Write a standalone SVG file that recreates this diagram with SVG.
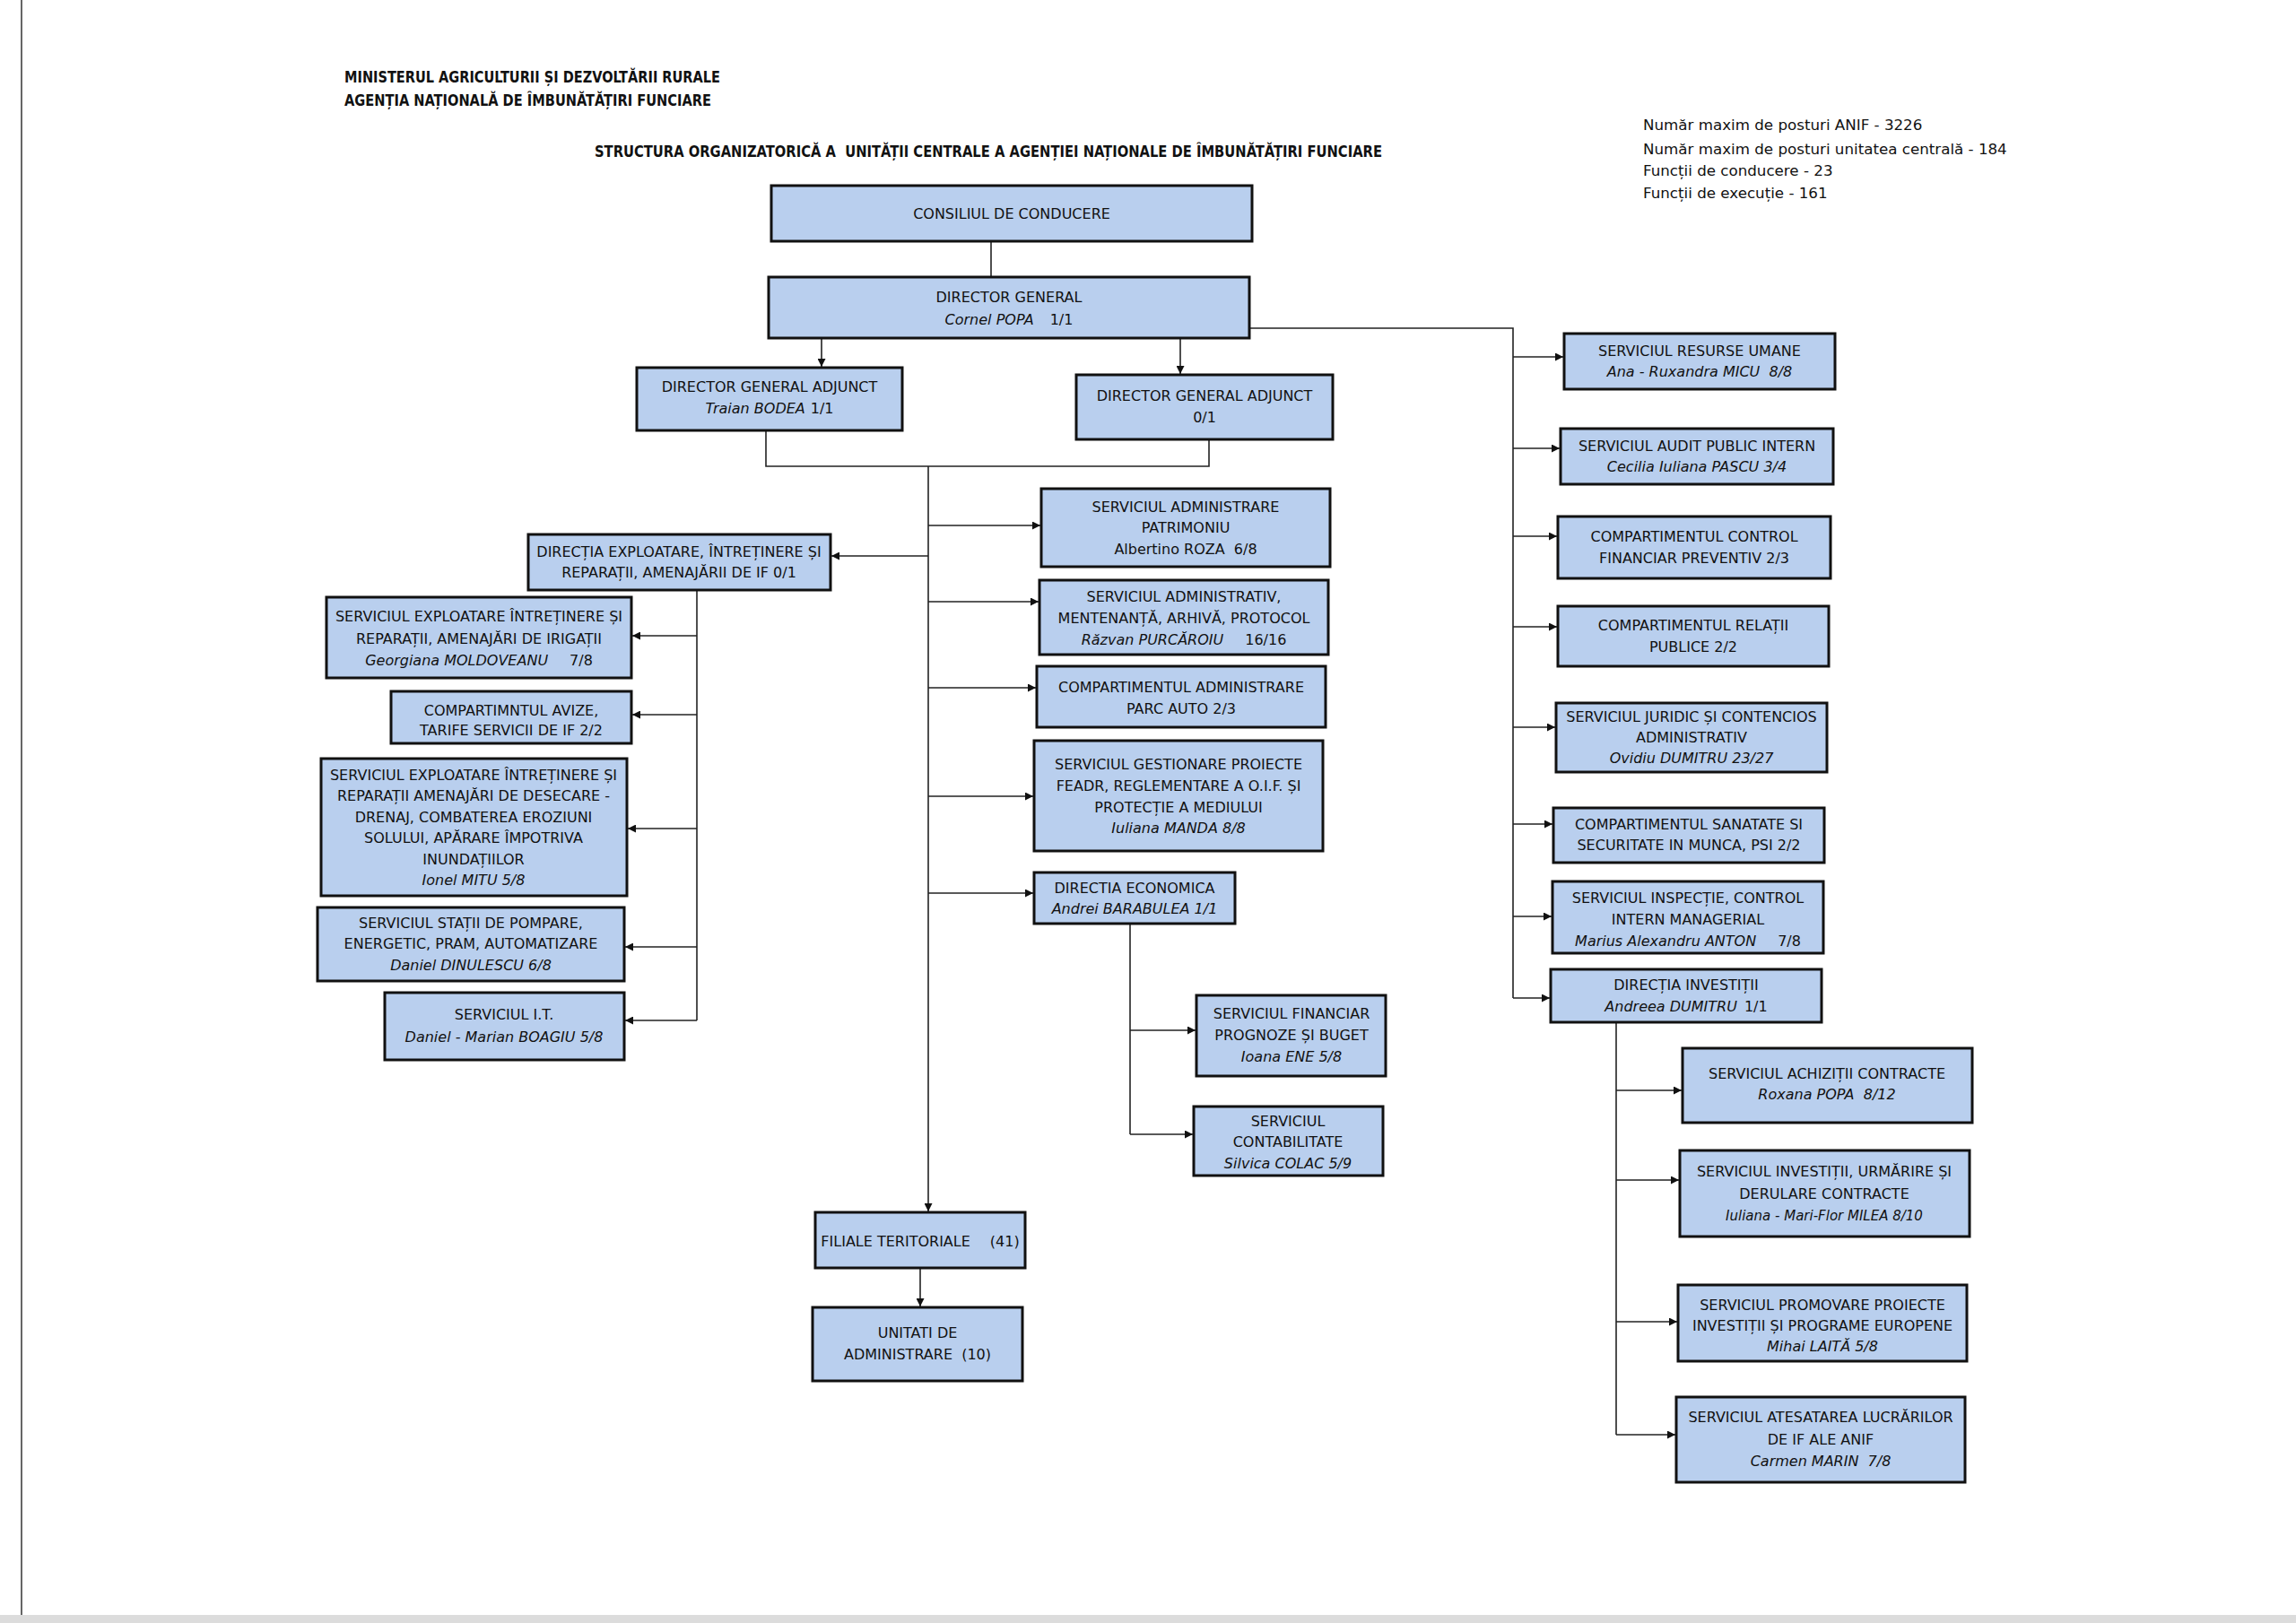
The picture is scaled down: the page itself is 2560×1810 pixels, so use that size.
<svg xmlns="http://www.w3.org/2000/svg" width="2560" height="1810" viewBox="0 0 2560 1810">
<defs>
<style>
.box{fill:#b9cfee;stroke:#111;stroke-width:3}
.t{font-family:"DejaVu Sans",Verdana,sans-serif;font-size:16px;fill:#111;text-anchor:middle}
.i{font-style:italic}
.hd{font-family:"DejaVu Sans Condensed","DejaVu Sans",sans-serif;font-size:17px;font-weight:bold;fill:#111}
.st{font-family:"DejaVu Sans",Verdana,sans-serif;font-size:16.7px;fill:#111}
.c{fill:none;stroke:#222;stroke-width:1.6}
</style>
<marker id="ah" viewBox="0 0 10 10" refX="10" refY="5" markerWidth="9" markerHeight="9" markerUnits="userSpaceOnUse" orient="auto">
<path d="M0,0 L10,5 L0,10 z" fill="#111"/>
</marker>
</defs>
<rect x="0" y="0" width="2560" height="1810" fill="#fff"/>
<line x1="24" y1="0" x2="24" y2="1810" stroke="#666" stroke-width="2"/>
<rect x="0" y="1801" width="2560" height="9" fill="#dcdcdc"/>

<g id="header">
<text class="hd" x="384" y="92" textLength="419" lengthAdjust="spacingAndGlyphs">MINISTERUL AGRICULTURII ȘI DEZVOLTĂRII RURALE</text>
<text class="hd" x="384" y="118" textLength="409" lengthAdjust="spacingAndGlyphs">AGENȚIA NAȚIONALĂ DE ÎMBUNĂTĂȚIRI FUNCIARE</text>
<text class="hd" x="663" y="175" textLength="878" lengthAdjust="spacingAndGlyphs" xml:space="preserve">STRUCTURA ORGANIZATORICĂ A  UNITĂȚII CENTRALE A AGENȚIEI NAȚIONALE DE ÎMBUNĂTĂȚIRI FUNCIARE</text>
</g>
<g id="stats">
<text class="st" x="1832" y="145">Număr maxim de posturi ANIF - 3226</text>
<text class="st" x="1832" y="172">Număr maxim de posturi unitatea centrală - 184</text>
<text class="st" x="1832" y="196">Funcții de conducere - 23</text>
<text class="st" x="1832" y="221">Funcții de execuție - 161</text>
</g>

<g id="connectors">
<line class="c" x1="1105" y1="269" x2="1105" y2="309"/>
<line class="c" x1="916" y1="377" x2="916" y2="409" marker-end="url(#ah)"/>
<line class="c" x1="1316" y1="377" x2="1316" y2="417" marker-end="url(#ah)"/>
<polyline class="c" points="854,480 854,520 1348,520 1348,490"/>
<line class="c" x1="1035" y1="520" x2="1035" y2="1351" marker-end="url(#ah)"/>
<line class="c" x1="1035" y1="620" x2="927" y2="620" marker-end="url(#ah)"/>
<line class="c" x1="1035" y1="586" x2="1160" y2="586" marker-end="url(#ah)"/>
<line class="c" x1="1035" y1="671" x2="1158" y2="671" marker-end="url(#ah)"/>
<line class="c" x1="1035" y1="767" x2="1155" y2="767" marker-end="url(#ah)"/>
<line class="c" x1="1035" y1="888" x2="1152" y2="888" marker-end="url(#ah)"/>
<line class="c" x1="1035" y1="996" x2="1152" y2="996" marker-end="url(#ah)"/>
<line class="c" x1="1026" y1="1414" x2="1026" y2="1457" marker-end="url(#ah)"/>
<line class="c" x1="777" y1="658" x2="777" y2="1138"/>
<line class="c" x1="777" y1="709" x2="705" y2="709" marker-end="url(#ah)"/>
<line class="c" x1="777" y1="797" x2="705" y2="797" marker-end="url(#ah)"/>
<line class="c" x1="777" y1="924" x2="700" y2="924" marker-end="url(#ah)"/>
<line class="c" x1="777" y1="1056" x2="697" y2="1056" marker-end="url(#ah)"/>
<line class="c" x1="777" y1="1138" x2="697" y2="1138" marker-end="url(#ah)"/>
<line class="c" x1="1260" y1="1030" x2="1260" y2="1265"/>
<line class="c" x1="1260" y1="1149" x2="1333" y2="1149" marker-end="url(#ah)"/>
<line class="c" x1="1260" y1="1265" x2="1330" y2="1265" marker-end="url(#ah)"/>
<polyline class="c" points="1393,366 1687,366 1687,1113"/>
<line class="c" x1="1687" y1="398" x2="1743" y2="398" marker-end="url(#ah)"/>
<line class="c" x1="1687" y1="500" x2="1739" y2="500" marker-end="url(#ah)"/>
<line class="c" x1="1687" y1="598" x2="1736" y2="598" marker-end="url(#ah)"/>
<line class="c" x1="1687" y1="699" x2="1736" y2="699" marker-end="url(#ah)"/>
<line class="c" x1="1687" y1="811" x2="1734" y2="811" marker-end="url(#ah)"/>
<line class="c" x1="1687" y1="919" x2="1731" y2="919" marker-end="url(#ah)"/>
<line class="c" x1="1687" y1="1022" x2="1730" y2="1022" marker-end="url(#ah)"/>
<line class="c" x1="1687" y1="1113" x2="1728" y2="1113" marker-end="url(#ah)"/>
<line class="c" x1="1802" y1="1140" x2="1802" y2="1600"/>
<line class="c" x1="1802" y1="1216" x2="1875" y2="1216" marker-end="url(#ah)"/>
<line class="c" x1="1802" y1="1316" x2="1872" y2="1316" marker-end="url(#ah)"/>
<line class="c" x1="1802" y1="1474" x2="1870" y2="1474" marker-end="url(#ah)"/>
<line class="c" x1="1802" y1="1600" x2="1868" y2="1600" marker-end="url(#ah)"/>
</g>

<g id="consiliul"><rect class="box" x="860" y="207" width="536" height="62"/><text class="t" x="1128" y="244">CONSILIUL DE CONDUCERE</text></g>
<g id="director-general"><rect class="box" x="857" y="309" width="536" height="68"/><text class="t" x="1125" y="337">DIRECTOR GENERAL</text><text class="t" x="1125" y="362"><tspan class="i">Cornel POPA</tspan><tspan dx="18">1/1</tspan></text></g>
<g id="dga-1"><rect class="box" x="710" y="410" width="296" height="70"/><text class="t" x="858" y="437">DIRECTOR GENERAL ADJUNCT</text><text class="t" x="858" y="461"><tspan class="i">Traian BODEA</tspan><tspan dx="6">1/1</tspan></text></g>
<g id="dga-2"><rect class="box" x="1200" y="418" width="286" height="72"/><text class="t" x="1343" y="447">DIRECTOR GENERAL ADJUNCT</text><text class="t" x="1343" y="471">0/1</text></g>

<g id="directia-exploatare"><rect class="box" x="589" y="596" width="337" height="62"/><text class="t" x="757" y="621">DIRECȚIA EXPLOATARE, ÎNTREȚINERE ȘI</text><text class="t" x="757" y="644">REPARAȚII, AMENAJĂRII DE IF 0/1</text></g>
<g id="serv-irigatii"><rect class="box" x="364" y="666" width="340" height="90"/><text class="t" x="534" y="693">SERVICIUL EXPLOATARE ÎNTREȚINERE ȘI</text><text class="t" x="534" y="718">REPARAȚII, AMENAJĂRI DE IRIGAȚII</text><text class="t" x="534" y="742"><tspan class="i">Georgiana MOLDOVEANU</tspan><tspan dx="24">7/8</tspan></text></g>
<g id="comp-avize"><rect class="box" x="436" y="771" width="268" height="58"/><text class="t" x="570" y="798">COMPARTIMNTUL AVIZE,</text><text class="t" x="570" y="820">TARIFE SERVICII DE IF 2/2</text></g>
<g id="serv-desecare"><rect class="box" x="358" y="846" width="341" height="153"/><text class="t" x="528" y="870">SERVICIUL EXPLOATARE ÎNTREȚINERE ȘI</text><text class="t" x="528" y="893">REPARAȚII AMENAJĂRI DE DESECARE -</text><text class="t" x="528" y="917">DRENAJ, COMBATEREA EROZIUNI</text><text class="t" x="528" y="940">SOLULUI, APĂRARE ÎMPOTRIVA</text><text class="t" x="528" y="964">INUNDAȚIILOR</text><text class="t i" x="528" y="987">Ionel MITU 5/8</text></g>
<g id="serv-statii"><rect class="box" x="354" y="1012" width="342" height="82"/><text class="t" x="525" y="1035">SERVICIUL STAȚII DE POMPARE,</text><text class="t" x="525" y="1058">ENERGETIC, PRAM, AUTOMATIZARE</text><text class="t i" x="525" y="1082">Daniel DINULESCU 6/8</text></g>
<g id="serv-it"><rect class="box" x="429" y="1107" width="267" height="75"/><text class="t" x="562" y="1137">SERVICIUL I.T.</text><text class="t i" x="562" y="1162">Daniel - Marian BOAGIU 5/8</text></g>

<g id="serv-patrimoniu"><rect class="box" x="1161" y="545" width="322" height="87"/><text class="t" x="1322" y="571">SERVICIUL ADMINISTRARE</text><text class="t" x="1322" y="594">PATRIMONIU</text><text class="t" x="1322" y="618" xml:space="preserve">Albertino ROZA  6/8</text></g>
<g id="serv-administrativ"><rect class="box" x="1159" y="647" width="322" height="83"/><text class="t" x="1320" y="671">SERVICIUL ADMINISTRATIV,</text><text class="t" x="1320" y="695">MENTENANȚĂ, ARHIVĂ, PROTOCOL</text><text class="t" x="1320" y="719"><tspan class="i">Răzvan PURCĂROIU</tspan><tspan dx="24">16/16</tspan></text></g>
<g id="comp-parc-auto"><rect class="box" x="1156" y="743" width="322" height="68"/><text class="t" x="1317" y="772">COMPARTIMENTUL ADMINISTRARE</text><text class="t" x="1317" y="796">PARC AUTO 2/3</text></g>
<g id="serv-gestionare"><rect class="box" x="1153" y="826" width="322" height="123"/><text class="t" x="1314" y="858">SERVICIUL GESTIONARE PROIECTE</text><text class="t" x="1314" y="882">FEADR, REGLEMENTARE A O.I.F. ȘI</text><text class="t" x="1314" y="906">PROTECȚIE A MEDIULUI</text><text class="t i" x="1314" y="929">Iuliana MANDA 8/8</text></g>
<g id="directia-economica"><rect class="box" x="1153" y="973" width="224" height="57"/><text class="t" x="1265" y="996">DIRECTIA ECONOMICA</text><text class="t i" x="1265" y="1019">Andrei BARABULEA 1/1</text></g>
<g id="serv-financiar"><rect class="box" x="1334" y="1110" width="211" height="90"/><text class="t" x="1440" y="1136">SERVICIUL FINANCIAR</text><text class="t" x="1440" y="1160">PROGNOZE ȘI BUGET</text><text class="t i" x="1440" y="1184">Ioana ENE 5/8</text></g>
<g id="serv-contabilitate"><rect class="box" x="1331" y="1234" width="211" height="77"/><text class="t" x="1436" y="1256">SERVICIUL</text><text class="t" x="1436" y="1279">CONTABILITATE</text><text class="t i" x="1436" y="1303">Silvica COLAC 5/9</text></g>
<g id="filiale"><rect class="box" x="909" y="1352" width="234" height="62"/><text class="t" x="1026" y="1390">FILIALE TERITORIALE<tspan dx="22">(41)</tspan></text></g>
<g id="unitati"><rect class="box" x="906" y="1458" width="234" height="82"/><text class="t" x="1023" y="1492">UNITATI DE</text><text class="t" x="1023" y="1516" xml:space="preserve">ADMINISTRARE  (10)</text></g>

<g id="serv-resurse-umane"><rect class="box" x="1744" y="372" width="302" height="62"/><text class="t" x="1895" y="397">SERVICIUL RESURSE UMANE</text><text class="t i" x="1895" y="420" xml:space="preserve">Ana - Ruxandra MICU  8/8</text></g>
<g id="serv-audit"><rect class="box" x="1740" y="478" width="304" height="62"/><text class="t" x="1892" y="503">SERVICIUL AUDIT PUBLIC INTERN</text><text class="t i" x="1892" y="526">Cecilia Iuliana PASCU 3/4</text></g>
<g id="comp-control"><rect class="box" x="1737" y="576" width="304" height="69"/><text class="t" x="1889" y="604">COMPARTIMENTUL CONTROL</text><text class="t" x="1889" y="628">FINANCIAR PREVENTIV 2/3</text></g>
<g id="comp-relatii"><rect class="box" x="1737" y="676" width="302" height="67"/><text class="t" x="1888" y="703">COMPARTIMENTUL RELAȚII</text><text class="t" x="1888" y="727">PUBLICE 2/2</text></g>
<g id="serv-juridic"><rect class="box" x="1735" y="784" width="302" height="77"/><text class="t" x="1886" y="805">SERVICIUL JURIDIC ȘI CONTENCIOS</text><text class="t" x="1886" y="828">ADMINISTRATIV</text><text class="t i" x="1886" y="851">Ovidiu DUMITRU 23/27</text></g>
<g id="comp-sanatate"><rect class="box" x="1732" y="901" width="302" height="61"/><text class="t" x="1883" y="925">COMPARTIMENTUL SANATATE SI</text><text class="t" x="1883" y="948">SECURITATE IN MUNCA, PSI 2/2</text></g>
<g id="serv-inspectie"><rect class="box" x="1731" y="983" width="302" height="80"/><text class="t" x="1882" y="1007">SERVICIUL INSPECȚIE, CONTROL</text><text class="t" x="1882" y="1031">INTERN MANAGERIAL</text><text class="t" x="1882" y="1055"><tspan class="i">Marius Alexandru ANTON</tspan><tspan dx="24">7/8</tspan></text></g>
<g id="directia-investitii"><rect class="box" x="1729" y="1081" width="302" height="59"/><text class="t" x="1880" y="1104">DIRECȚIA INVESTIȚII</text><text class="t" x="1880" y="1128"><tspan class="i">Andreea DUMITRU</tspan><tspan dx="8">1/1</tspan></text></g>
<g id="serv-achizitii"><rect class="box" x="1876" y="1169" width="323" height="83"/><text class="t" x="2037" y="1203">SERVICIUL ACHIZIȚII CONTRACTE</text><text class="t i" x="2037" y="1226" xml:space="preserve">Roxana POPA  8/12</text></g>
<g id="serv-investitii"><rect class="box" x="1873" y="1283" width="323" height="96"/><text class="t" x="2034" y="1312">SERVICIUL INVESTIȚII, URMĂRIRE ȘI</text><text class="t" x="2034" y="1337">DERULARE CONTRACTE</text><text class="t i" x="2034" y="1361" style="font-size:15px">Iuliana - Mari-Flor MILEA 8/10</text></g>
<g id="serv-promovare"><rect class="box" x="1871" y="1433" width="322" height="85"/><text class="t" x="2032" y="1461">SERVICIUL PROMOVARE PROIECTE</text><text class="t" x="2032" y="1484">INVESTIȚII ȘI PROGRAME EUROPENE</text><text class="t i" x="2032" y="1507">Mihai LAITĂ 5/8</text></g>
<g id="serv-atestare"><rect class="box" x="1869" y="1558" width="322" height="95"/><text class="t" x="2030" y="1586">SERVICIUL ATESATAREA LUCRĂRILOR</text><text class="t" x="2030" y="1611">DE IF ALE ANIF</text><text class="t i" x="2030" y="1635" xml:space="preserve">Carmen MARIN  7/8</text></g>
</svg>
